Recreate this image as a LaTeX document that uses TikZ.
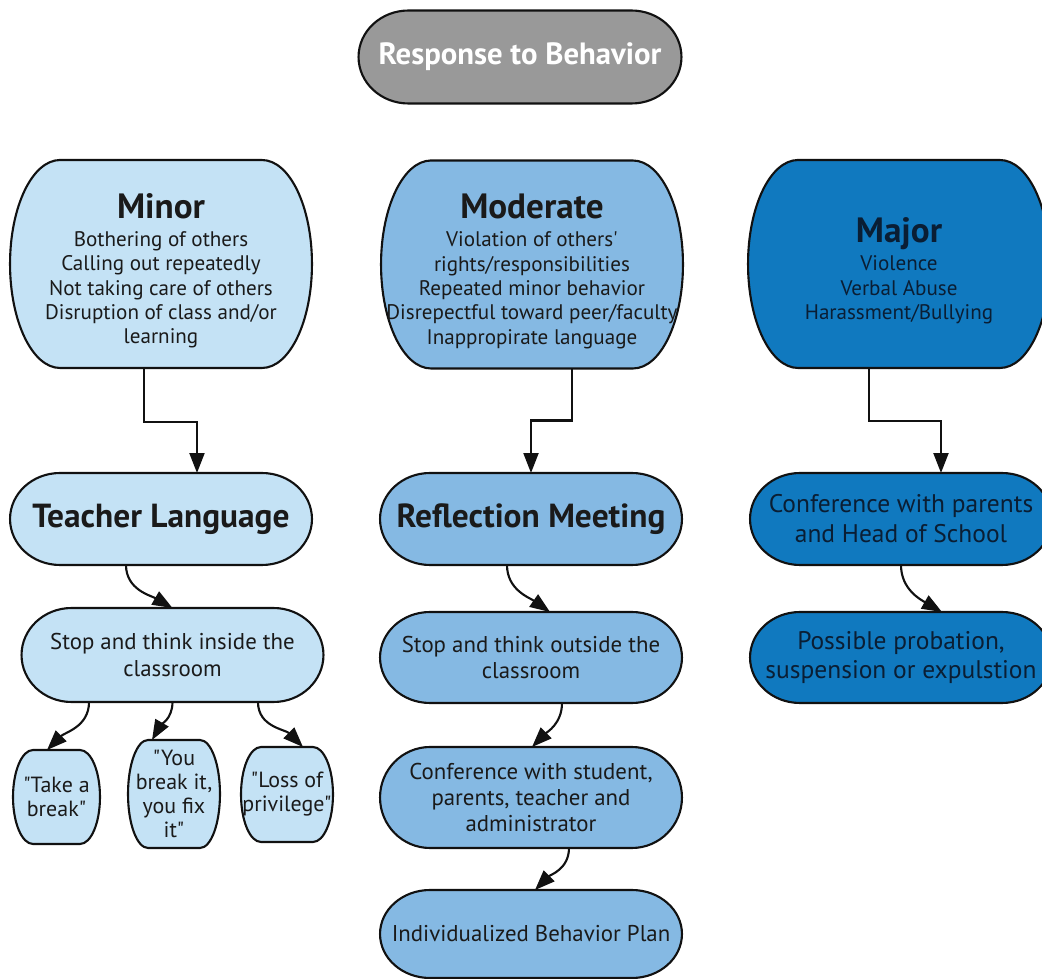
\documentclass[tikz,border=0pt]{standalone}
\usepackage{fontspec}
\setmainfont{PT Sans}[Ligatures=TeXOff]
\usetikzlibrary{arrows.meta}

% box with flat top and bottom and half-elliptic sides
\makeatletter
\newdimen\pillrx \newdimen\pillry
\newdimen\pillxa \newdimen\pillxb \newdimen\pillya \newdimen\pillyb
\pgfkeys{/pgf/pill arc/.initial=1cm}
\pgfdeclareshape{pill}{
  \inheritsavedanchors[from=rectangle]
  \inheritanchorborder[from=rectangle]
  \inheritanchor[from=rectangle]{center}
  \inheritanchor[from=rectangle]{north}
  \inheritanchor[from=rectangle]{south}
  \inheritanchor[from=rectangle]{east}
  \inheritanchor[from=rectangle]{west}
  \anchor{text}{\pgfpointorigin}
  \backgroundpath{%
    \southwest \pillxa=\pgf@x \pillya=\pgf@y
    \northeast \pillxb=\pgf@x \pillyb=\pgf@y
    \pgfmathsetlength\pillrx{\pgfkeysvalueof{/pgf/pill arc}}%
    \pillry=.5\pillyb \advance\pillry by -.5\pillya
    \advance\pillxa by \pillrx
    \advance\pillxb by -\pillrx
    \pgfpathmoveto{\pgfqpoint{\pillxa}{\pillyb}}%
    \pgfpathlineto{\pgfqpoint{\pillxb}{\pillyb}}%
    \edef\pill@cmd{\noexpand\pgfpatharc{90}{-90}{\the\pillrx\space and \the\pillry}}\pill@cmd
    \pgfpathlineto{\pgfqpoint{\pillxa}{\pillya}}%
    \edef\pill@cmd{\noexpand\pgfpatharc{270}{90}{\the\pillrx\space and \the\pillry}}\pill@cmd
    \pgfpathclose
  }
}
\makeatother

\definecolor{minorblue}{RGB}{196,226,245}
\definecolor{modblue}{RGB}{133,185,227}
\definecolor{majblue}{RGB}{16,121,191}
\definecolor{titlegray}{RGB}{153,153,153}
\definecolor{majtext}{RGB}{10,30,52}
\definecolor{inkline}{RGB}{17,17,17}
\definecolor{inktext}{RGB}{26,26,26}

\newcommand\headfont{\fontsize{20}{24}\selectfont\bfseries\rule{0pt}{22pt}}
\newcommand\stepfont{\fontsize{19}{22}\selectfont\bfseries}
\newcommand\bodyfont{\fontsize{12}{13.9}\selectfont}
\newcommand\lowfont{\fontsize{13}{15}\selectfont}
\newcommand\chipfont{\fontsize{12.5}{13.6}\selectfont}
\newcommand\bigbodyfont{\fontsize{14.5}{17}\selectfont}
\newcommand\bannerfont{\fontsize{17.5}{21}\selectfont\bfseries}

\begin{document}
\begin{tikzpicture}[x=0.02cm, y=-0.02cm,
	box/.style = {pill, draw=inkline, line width=1.2pt, inner sep=0pt, outer sep=0pt, align=center, text=inktext, font=\lowfont},
	bigbox/.style = {box, font=\bodyfont, minimum width=6.04cm, minimum height=4.16cm},
	midbox/.style = {box, minimum width=6.04cm, minimum height=1.84cm},
	chip/.style = {box, font=\chipfont, pill arc=0.4cm, minimum width=1.8cm, minimum height=1.9cm},
	link/.style = {-{Triangle[length=0.4cm,width=0.3cm]}, draw=inkline, line width=1.2pt}]
	\useasboundingbox (0,0) rectangle (1042,979);
	\node[box, fill=titlegray, text=white, font=\bannerfont, minimum width=6.46cm, minimum height=1.86cm] (title) at (520,57) {Response to Behavior};
	% minor
	\node[bigbox, fill=minorblue] (minor) at (161,264) {{\headfont Minor}\\[2pt] Bothering of others\\ Calling out repeatedly\\ Not taking care of others\\ Disruption of class and/or\\ learning};
	\node[midbox, fill=minorblue, font=\stepfont] (teacher) at (161,519) {Teacher Language};
	\node[midbox, fill=minorblue, minimum height=1.88cm] (stopin) at (172.5,655) {Stop and think inside the\\ classroom};
	\node[chip, fill=minorblue, minimum width=1.74cm, minimum height=1.88cm] (breaknode) at (56.5,797) {"Take a\\ break"};
	\node[chip, fill=minorblue, minimum width=1.84cm, minimum height=2.16cm] (fixit) at (174,794) {"You\\ break it,\\ you fix\\ it"};
	\node[chip, fill=minorblue, minimum width=1.84cm, minimum height=1.9cm] (privilege) at (287,794.5) {"Loss of\\ privilege"};
	% moderate
	\node[bigbox, fill=modblue] (moderate) at (532,264.5) {{\headfont Moderate}\\[2pt] Violation of others'\\ rights/responsibilities\\ Repeated minor behavior\\ Disrepectful toward peer/faculty\\ Inappropirate language};
	\node[midbox, fill=modblue, font=\stepfont] (reflect) at (531,519) {Reflection Meeting};
	\node[midbox, fill=modblue, minimum height=1.82cm] (stopout) at (531,657.5) {Stop and think outside the\\ classroom};
	\node[midbox, fill=modblue, minimum height=2.02cm] (meetall) at (531,797.5) {Conference with student,\\ parents, teacher and\\ administrator};
	\node[midbox, fill=modblue, minimum height=1.76cm] (plan) at (531,934) {Individualized Behavior Plan};
	% major
	\node[bigbox, fill=majblue, text=majtext] (major) at (899,264) {{\headfont Major}\\[2pt] Violence\\ Verbal Abuse\\ Harassment/Bullying};
	\node[midbox, fill=majblue, text=majtext, font=\bigbodyfont] (meetparents) at (901,519) {Conference with parents\\ and Head of School};
	\node[midbox, fill=majblue, text=majtext, font=\bigbodyfont, minimum height=1.82cm] (outcome) at (901,657.5) {Possible probation,\\ suspension or expulstion};
	\draw[link] ([xshift=-0.34cm]minor.south) -- ++(0,-1.08cm) -| ([xshift=0.72cm]teacher.north);
	\draw[link] ([xshift=0.8cm]moderate.south) -- ++(0,-1.04cm) -| (reflect.north);
	\draw[link] ([xshift=-0.6cm]major.south) -- ++(0,-1.06cm) -| ([xshift=0.8cm]meetparents.north);
	\draw[link] ([xshift=-0.7cm]teacher.south) to[out=-90,in=150] (stopin.north);
	\draw[link] ([xshift=-1.67cm]stopin.south) to[out=-90,in=45] ([xshift=-0.19cm]breaknode.north);
	\draw[link] (stopin.south) to[out=-90,in=60] ([xshift=-0.44cm]fixit.north);
	\draw[link] ([xshift=1.71cm]stopin.south) to[out=-90,in=135] ([xshift=0.32cm]privilege.north);
	\draw[link] ([xshift=-0.48cm]reflect.south) to[out=-90,in=145] ([xshift=0.38cm]stopout.north);
	\draw[link] ([xshift=0.62cm]stopout.south) to[out=-90,in=45] ([xshift=0.02cm]meetall.north);
	\draw[link] ([xshift=0.76cm]meetall.south) to[out=-90,in=45] ([xshift=0.08cm]plan.north);
	\draw[link] (meetparents.south) to[out=-90,in=150] ([xshift=0.82cm]outcome.north);
\end{tikzpicture}
\end{document}
